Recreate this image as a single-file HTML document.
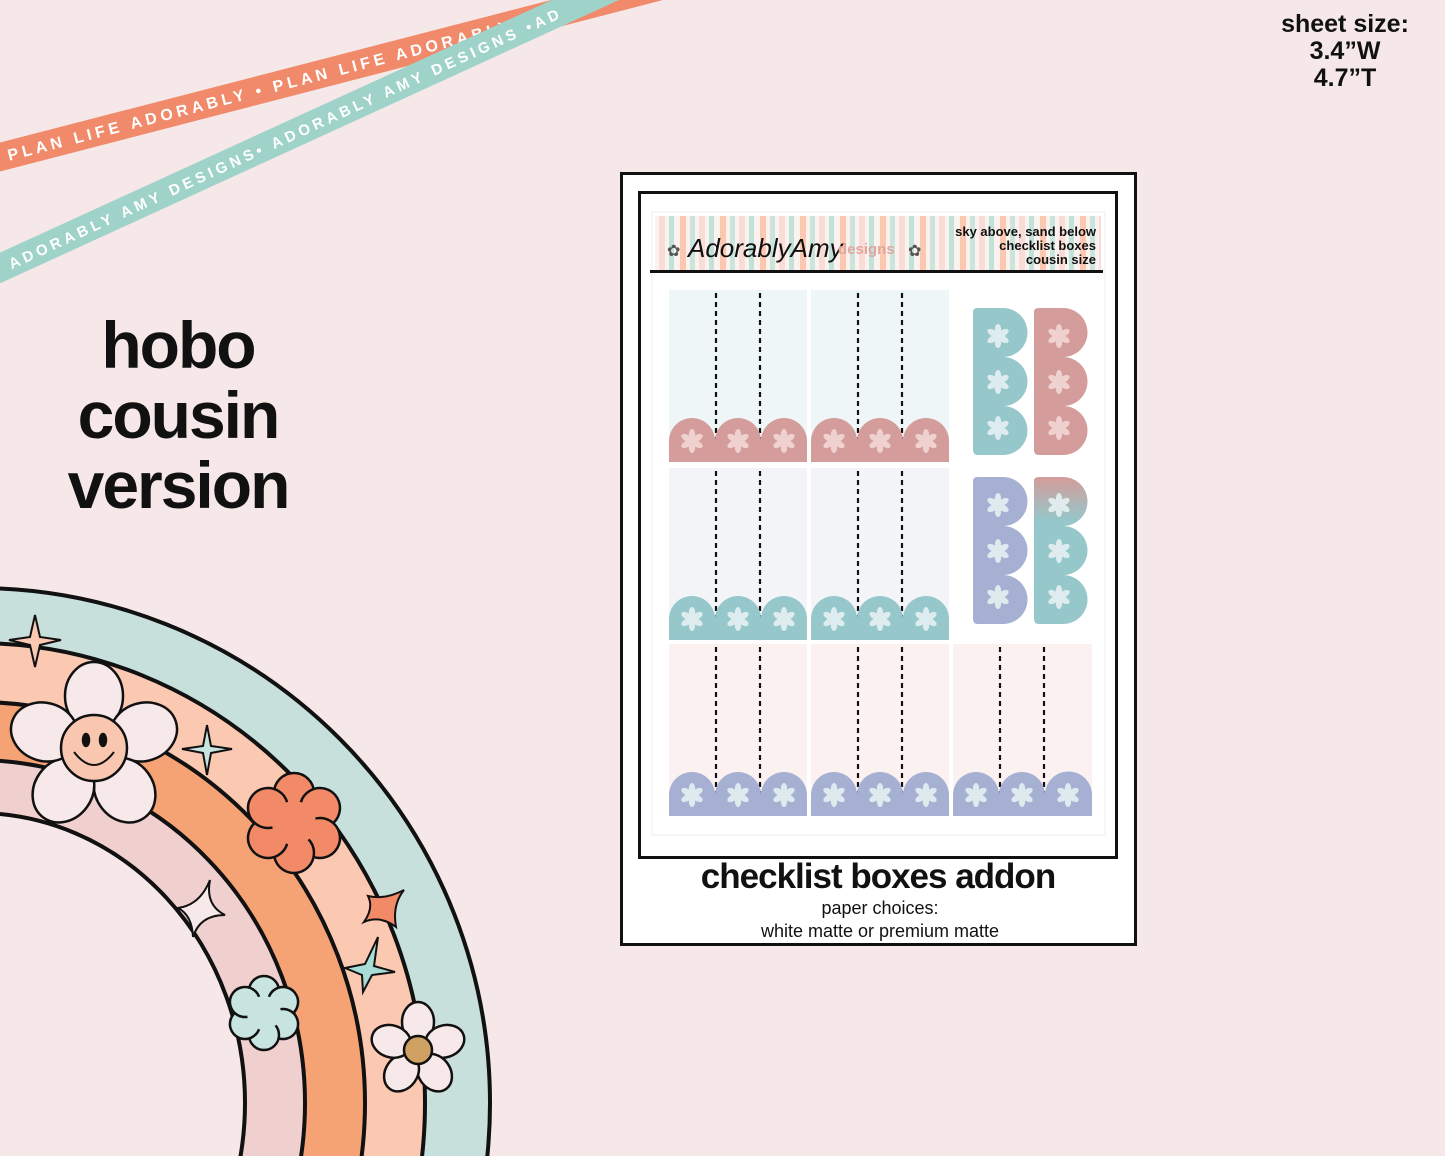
<!DOCTYPE html>
<html><head><meta charset="utf-8"><style>
html,body{margin:0;padding:0;background:#f6e8e8;width:1445px;height:1156px;overflow:hidden;}
svg{display:block}
text{font-family:"Liberation Sans",sans-serif}
</style></head><body>
<svg width="1445" height="1156" viewBox="0 0 1445 1156" xmlns="http://www.w3.org/2000/svg">
<defs>
<clipPath id="cp"><rect width="1445" height="1156"/></clipPath>
<pattern id="stripes" width="40" height="60" patternUnits="userSpaceOnUse">
<rect width="40" height="60" fill="#fdf1ee"/>
<rect x="0" width="6" height="60" fill="#fbc9b2"/>
<rect x="10" width="5" height="60" fill="#c9e6de"/>
<rect x="19" width="6" height="60" fill="#f7dcd8"/>
<rect x="29" width="5" height="60" fill="#bfe2d9"/>
</pattern>
<linearGradient id="gr" x1="0" y1="0" x2="0" y2="1"><stop offset="0" stop-color="#d49c9a"/><stop offset="0.3" stop-color="#95c7cb"/></linearGradient>
<g id="shape"><g transform="rotate(0)"><ellipse cy="-6" rx="3.2" ry="6"/><ellipse cy="-6" rx="3.2" ry="6" transform="rotate(60)"/><ellipse cy="-6" rx="3.2" ry="6" transform="rotate(120)"/><ellipse cy="-6" rx="3.2" ry="6" transform="rotate(180)"/><ellipse cy="-6" rx="3.2" ry="6" transform="rotate(240)"/><ellipse cy="-6" rx="3.2" ry="6" transform="rotate(300)"/></g></g>
<g id="st" fill="#f3d7d6" opacity="0.9"><use href="#shape"/></g>
<g id="stw" fill="#e6f1f3" opacity="0.9"><use href="#shape"/></g>
</defs>
<g clip-path="url(#cp)">
<rect width="1445" height="1156" fill="#f6e8e8"/>

<!-- ribbons -->
<g transform="translate(0,157) rotate(-14.5)">
<rect x="-20" y="-14" width="720" height="28" fill="#f08a6a"/>
<text x="8" y="6" fill="#fff" font-size="16" font-weight="bold" letter-spacing="4">PLAN LIFE ADORABLY • PLAN LIFE ADORABLY</text>
</g>
<g transform="translate(0,268) rotate(-24.6)">
<rect x="-20" y="-14" width="720" height="28" fill="#9fd3c9"/>
<text x="10" y="6" fill="#fff" font-size="15" font-weight="bold" letter-spacing="4">ADORABLY AMY DESIGNS• ADORABLY AMY DESIGNS •AD</text>
</g>

<!-- headings -->
<text x="1345" y="32" text-anchor="middle" font-size="25" font-weight="bold" fill="#111">sheet size:</text>
<text x="1345" y="59" text-anchor="middle" font-size="25" font-weight="bold" fill="#111">3.4”W</text>
<text x="1345" y="86" text-anchor="middle" font-size="25" font-weight="bold" fill="#111">4.7”T</text>
<text x="178" y="368" text-anchor="middle" font-size="66" font-weight="bold" fill="#111" letter-spacing="-2">hobo</text>
<text x="178" y="438" text-anchor="middle" font-size="66" font-weight="bold" fill="#111" letter-spacing="-2">cousin</text>
<text x="178" y="508" text-anchor="middle" font-size="66" font-weight="bold" fill="#111" letter-spacing="-2">version</text>

<!-- rainbow -->
<g stroke="#111" stroke-width="4">
<ellipse cx="-23" cy="1103" rx="513" ry="515" fill="#c7e0dc"/>
<ellipse cx="-23" cy="1103" rx="448" ry="460" fill="#fbc8b1"/>
<ellipse cx="-23" cy="1103" rx="388" ry="401" fill="#f5a375"/>
<ellipse cx="-23" cy="1103" rx="328" ry="343" fill="#f0d0cf"/>
<ellipse cx="-23" cy="1103" rx="268" ry="290" fill="#f6e8e8"/>
</g>
<!-- flowers -->
<g stroke="#111" stroke-width="2.5">
<g transform="translate(94,748)" fill="#f7e9e9">
<ellipse cx="0" cy="-52" rx="29" ry="34"/><ellipse cx="0" cy="-52" rx="29" ry="34" transform="rotate(72)"/><ellipse cx="0" cy="-52" rx="29" ry="34" transform="rotate(144)"/><ellipse cx="0" cy="-52" rx="29" ry="34" transform="rotate(216)"/><ellipse cx="0" cy="-52" rx="29" ry="34" transform="rotate(288)"/>
<circle r="33" fill="#f9c7b0"/>
<ellipse cx="-8" cy="-8" rx="3" ry="6" fill="#111"/><ellipse cx="9" cy="-8" rx="3" ry="6" fill="#111"/>
<path d="M-20,4 Q0,30 20,4" fill="none" stroke-width="2"/>
</g>
<g transform="translate(294,823)" fill="#f28a68">
<circle cy="-30" r="20"/><circle cy="-30" r="20" transform="rotate(60)"/><circle cy="-30" r="20" transform="rotate(120)"/><circle cy="-30" r="20" transform="rotate(180)"/><circle cy="-30" r="20" transform="rotate(240)"/><circle cy="-30" r="20" transform="rotate(300)"/><circle r="22" stroke="none"/>
</g>
<g transform="translate(264,1013)" fill="#c7e4e0">
<circle cy="-22" r="15"/><circle cy="-22" r="15" transform="rotate(60)"/><circle cy="-22" r="15" transform="rotate(120)"/><circle cy="-22" r="15" transform="rotate(180)"/><circle cy="-22" r="15" transform="rotate(240)"/><circle cy="-22" r="15" transform="rotate(300)"/><circle r="17" stroke="none"/>
</g>
<g transform="translate(418,1050)" fill="#f7e9e9">
<ellipse cy="-28" rx="16" ry="20"/><ellipse cy="-28" rx="16" ry="20" transform="rotate(72)"/><ellipse cy="-28" rx="16" ry="20" transform="rotate(144)"/><ellipse cy="-28" rx="16" ry="20" transform="rotate(216)"/><ellipse cy="-28" rx="16" ry="20" transform="rotate(288)"/>
<circle r="14" fill="#cfa264"/>
</g>
<path d="M35,615 L40,637 L61,640 L40,645 L35,667 L30,645 L9,640 L30,637Z" fill="#fbc8b1" stroke-width="2"/>
<path d="M207,725 L211,746 L232,749 L211,753 L207,775 L203,753 L182,749 L203,746Z" fill="#c7e4e0" stroke-width="2"/>
<path d="M368,896 Q385,900 404,890 Q392,905 396,927 Q380,915 364,922 Q374,908 368,896Z" fill="#f28a68" stroke-width="2"/>
<path d="M210,880 Q205,905 225,915 Q200,915 193,937 Q192,915 178,908 Q200,905 210,880Z" fill="#f7e9e9" stroke-width="2"/>
<path d="M378,937 L374,966 L395,972 L372,975 L363,992 L362,975 L345,968 L365,964Z" fill="#a8dcd6" stroke-width="2"/>
</g>

<!-- sheet -->
<rect x="621.5" y="173.5" width="514" height="771" fill="#fff" stroke="#111" stroke-width="3"/>
<rect x="639.5" y="192.5" width="477" height="665" fill="#fff" stroke="#111" stroke-width="3"/>
<rect x="652" y="212" width="453" height="623" fill="#fff" stroke="#eee" stroke-width="1"/>
<rect x="655" y="216" width="446" height="54" fill="url(#stripes)"/>
<rect x="650" y="270" width="453" height="3" fill="#111"/>
<text x="667" y="256" font-size="16" fill="#555">✿</text>
<text x="688" y="257" font-family="Liberation Serif,serif" font-style="italic" font-size="26" fill="#111">AdorablyAmy</text>
<text x="838" y="254" font-size="15" font-weight="bold" fill="#e0a79e">designs</text>
<text x="908" y="256" font-size="16" fill="#555">✿</text>
<text x="1096" y="236" text-anchor="end" font-size="13" font-weight="bold" fill="#111">sky above, sand below</text>
<text x="1096" y="250" text-anchor="end" font-size="13" font-weight="bold" fill="#111">checklist boxes</text>
<text x="1096" y="264" text-anchor="end" font-size="13" font-weight="bold" fill="#111">cousin size</text>

<g>
<rect x="669" y="290" width="138" height="172" fill="#eef6f7"/>
<rect x="811" y="290" width="138" height="172" fill="#eef6f7"/>
<rect x="669" y="468" width="138" height="172" fill="#f3f4f8"/>
<rect x="811" y="468" width="138" height="172" fill="#f3f4f8"/>
<rect x="669" y="644" width="138" height="172" fill="#fbf1f0"/>
<rect x="811" y="644" width="138" height="172" fill="#fbf1f0"/>
<rect x="953" y="644" width="139" height="172" fill="#fbf1f0"/>
</g>
<g stroke="#111" stroke-width="2.2" stroke-dasharray="5,4">
<path d="M716,293V440M760,293V440M858,293V440M902,293V440"/>
<path d="M716,471V618M760,471V618M858,471V618M902,471V618"/>
<path d="M716,647V794M760,647V794M858,647V794M902,647V794M1000,647V794M1044,647V794"/>
</g>
<g>
<path d="M669,462V441A23,23 0 0 1 715,441A23,23 0 0 1 761,441A23,23 0 0 1 807,441V462Z" fill="#d49c9a"/>
<path d="M811,462V441A23,23 0 0 1 857,441A23,23 0 0 1 903,441A23,23 0 0 1 949,441V462Z" fill="#d49c9a"/>
<path d="M669,640V619A23,23 0 0 1 715,619A23,23 0 0 1 761,619A23,23 0 0 1 807,619V640Z" fill="#95c7cb"/>
<path d="M811,640V619A23,23 0 0 1 857,619A23,23 0 0 1 903,619A23,23 0 0 1 949,619V640Z" fill="#95c7cb"/>
<path d="M669,816V795A23,23 0 0 1 715,795A23,23 0 0 1 761,795A23,23 0 0 1 807,795V816Z" fill="#a6b0d3"/>
<path d="M811,816V795A23,23 0 0 1 857,795A23,23 0 0 1 903,795A23,23 0 0 1 949,795V816Z" fill="#a6b0d3"/>
<path d="M953,816V795A23,23 0 0 1 999,795A23,23 0 0 1 1045,795A23,23 0 0 1 1092,795V816Z" fill="#a6b0d3"/>
</g>
<g>
<use href="#st" x="692" y="441"/><use href="#st" x="738" y="441"/><use href="#st" x="784" y="441"/>
<use href="#st" x="834" y="441"/><use href="#st" x="880" y="441"/><use href="#st" x="926" y="441"/>
<use href="#stw" x="692" y="619"/><use href="#stw" x="738" y="619"/><use href="#stw" x="784" y="619"/>
<use href="#stw" x="834" y="619"/><use href="#stw" x="880" y="619"/><use href="#stw" x="926" y="619"/>
<use href="#stw" x="692" y="795"/><use href="#stw" x="738" y="795"/><use href="#stw" x="784" y="795"/>
<use href="#stw" x="834" y="795"/><use href="#stw" x="880" y="795"/><use href="#stw" x="926" y="795"/>
<use href="#stw" x="976" y="795"/><use href="#stw" x="1022" y="795"/><use href="#stw" x="1068" y="795"/>
</g>
<path d="M973,312Q973,308 978,308H1003A24.5,24.5 0 0 1 1003,357A24.5,24.5 0 0 1 1003,406A24.5,24.5 0 0 1 1003,455H978Q973,455 973,450Z" fill="#95c7cb"/>
<path d="M1034,312Q1034,308 1039,308H1063A24.5,24.5 0 0 1 1063,357A24.5,24.5 0 0 1 1063,406A24.5,24.5 0 0 1 1063,455H1039Q1034,455 1034,450Z" fill="#d49c9a"/>
<path d="M973,481Q973,477 978,477H1003A24.5,24.5 0 0 1 1003,526A24.5,24.5 0 0 1 1003,575A24.5,24.5 0 0 1 1003,624H978Q973,624 973,619Z" fill="#a6b0d3"/>
<path d="M1034,481Q1034,477 1039,477H1063A24.5,24.5 0 0 1 1063,526A24.5,24.5 0 0 1 1063,575A24.5,24.5 0 0 1 1063,624H1039Q1034,624 1034,619Z" fill="url(#gr)"/>
<use href="#stw" x="998" y="336"/><use href="#stw" x="998" y="382"/><use href="#stw" x="998" y="428"/>
<use href="#st" x="1059" y="336"/><use href="#st" x="1059" y="382"/><use href="#st" x="1059" y="428"/>
<use href="#stw" x="998" y="505"/><use href="#stw" x="998" y="551"/><use href="#stw" x="998" y="597"/>
<use href="#stw" x="1059" y="505"/><use href="#stw" x="1059" y="551"/><use href="#stw" x="1059" y="597"/>

<text x="878" y="888" text-anchor="middle" font-size="35" font-weight="bold" fill="#111" letter-spacing="-1">checklist boxes addon</text>
<text x="880" y="914" text-anchor="middle" font-size="18" fill="#111">paper choices:</text>
<text x="880" y="937" text-anchor="middle" font-size="18" fill="#111">white matte or premium matte</text>
</g>
</svg>
</body></html>
